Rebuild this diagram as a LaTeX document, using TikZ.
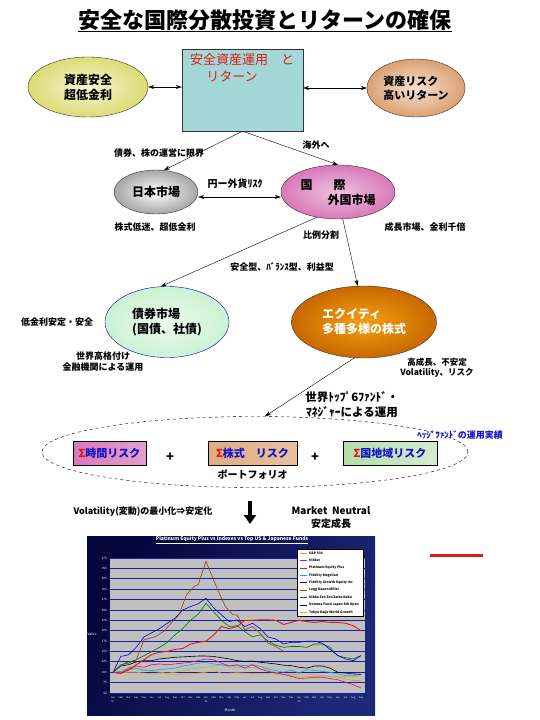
\documentclass[tikz,border=0pt]{standalone}
\usepackage{fontspec}
\setmainfont{Noto Sans CJK JP}
\usetikzlibrary{arrows.meta, positioning, shapes.geometric}
\definecolor{zuRed}{HTML}{E01818}
\definecolor{zuBlue}{HTML}{1414C8}
\definecolor{zuCyan}{HTML}{A4D8D8}
\definecolor{zuCyanLight}{HTML}{DDF4F4}
\definecolor{zuYellow}{HTML}{DCDC74}
\definecolor{zuPeach}{HTML}{DCA070}
\definecolor{zuPink}{HTML}{D878B8}
\definecolor{zuMint}{HTML}{CCF2D2}
\definecolor{zuOrange}{HTML}{F4A010}
\definecolor{zuOrangeDark}{HTML}{C86800}
\definecolor{zuTan}{HTML}{E0AC80}
\definecolor{zuGreen}{HTML}{B4DCA8}
\definecolor{zuNavy}{HTML}{06063C}
\definecolor{zuNavyLight}{HTML}{1C2878}
\definecolor{zuGrid}{HTML}{1C1CA0}
\definecolor{zuPlot}{HTML}{C0C0C0}
\definecolor{zuOlive}{HTML}{B4B43C}
\definecolor{zuBrown}{HTML}{8B4513}

\begin{document}
\begin{tikzpicture}[x=1pt, y=-1pt,
    bubble/.style={ellipse, draw=black!80, inner sep=0pt, align=left,
                   font=\fontsize{12}{15}\selectfont\bfseries},
    note/.style={inner sep=0pt, align=center, font=\fontsize{9}{11}\selectfont\bfseries},
    link/.style={-{Stealth[length=6pt, width=4pt]}, thin},
    twoway/.style={{Stealth[length=6pt, width=4pt]}-{Stealth[length=6pt, width=4pt]}, thin},
    riskbox/.style={rectangle, draw=black, minimum width=#1, minimum height=24pt,
                    inner sep=0pt, font=\fontsize{11}{13}\selectfont\bfseries\color{zuBlue}},
    chartlbl/.style={inner sep=0pt, text=white, font=\fontsize{3}{3.5}\selectfont},
    series/.style={line width=0.6pt},
  ]
    \useasboundingbox (0,0) rectangle (540,720);

    % title
    \node[inner sep=0pt, font=\fontsize{22}{26}\selectfont\bfseries] (title) at (265,20)
        {安全な国際分散投資とリターンの確保};
    \draw[line width=1.4pt] ([yshift=-1pt]title.south west) -- ([yshift=-1pt]title.south east);

    % top row
    \node[rectangle, draw=black!80, minimum width=121pt, minimum height=82pt,
          top color=zuCyan, middle color=zuCyanLight, bottom color=zuCyan] (ret) at (242.5,90) {};
    \node[below right=5pt and 8pt of ret.north west, inner sep=0pt, align=left,
          font=\fontsize{13}{17}\selectfont\color{zuRed}] (retTxt)
        {安全資産運用　と\\\hspace{1.25em}リターン};
    \node[bubble, minimum width=120pt, minimum height=60pt,
          inner color=zuYellow!30!white, outer color=zuYellow] (safe) at (88,87) {資産安全\\超低金利};
    \node[bubble, minimum width=98pt, minimum height=58pt,
          font=\fontsize{11}{14}\selectfont\bfseries,
          inner color=zuPeach!30!white, outer color=zuPeach] (risk) at (416,88) {資産リスク\\高いリターン};
    \draw[twoway] (safe.east) -- (safe.east -| ret.west);
    \draw[twoway] (ret.east |- risk.west) -- (risk.west);

    % markets
    \node[bubble, minimum width=84pt, minimum height=44pt,
          inner color=white, outer color=black!35] (jpmkt) at (156,192) {日本市場};
    \node[bubble, minimum width=114pt, minimum height=54pt,
          inner color=zuPink!45!white, outer color=zuPink] (intl) at (338,192)
        {国\hspace{1.75em}際\\\hspace{2.25em}外国市場};
    \draw[link] (ret.south) -- (jpmkt.70);
    \draw[link] (ret.south) -- (intl.north);
    \draw[twoway] ([yshift=-5pt]jpmkt.east) -- ([yshift=-5pt]intl.west);
    \node[note] (lblLimit) at (159,153) {債券、株の運営に限界};
    \node[note] (lblAbroad) at (316,145) {海外へ};
    \node[note, font=\fontsize{10}{12}\selectfont\bfseries] (lblFx) at (235,184) {円ー外貨ﾘｽｸ};
    \node[note] (lblJpLow) at (155,227) {株式低迷、超低金利};
    \node[note] (lblGrowth) at (425,227) {成長市場、金利千倍};

    % bond and equity
    \node[bubble, draw=blue!70!black, minimum width=124pt, minimum height=71pt,
          inner color=zuMint!40!white, outer color=zuMint] (bond) at (167,322)
        {債券市場\\(国債、社債)};
    \node[bubble, minimum width=145pt, minimum height=72pt, text=white,
          inner color=zuOrange, outer color=zuOrangeDark] (equity) at (364,322)
        {エクイティ\\多種多様の株式};
    \draw[link] (intl.230) -- (bond.100);
    \draw[link] (intl.280) -- (equity.100);
    \node[note] (lblSplit) at (321,235) {比例分割};
    \node[note] (lblTypes) at (282,267) {安全型、ﾊﾞﾗﾝｽ型、利益型};
    \node[note] (lblBondL) at (57,322) {低金利安定・安全};
    \node[note] (lblBondB) at (103,362) {世界高格付け\\金融機関による運用};
    \node[note, font=\fontsize{8.5}{10}\selectfont\bfseries] (lblEqR) at (437,368)
        {高成長、不安定\\Volatility、リスク};

    % portfolio
    \node[ellipse, draw, dashed, minimum width=426pt, minimum height=71pt] (pf) at (255,452) {};
    \draw[link] (equity.255) -- ([xshift=10pt]pf.north);
    \node[note, font=\fontsize{11.5}{15}\selectfont\bfseries] (lblTop6) at (352,405)
        {世界ﾄｯﾌﾟ6ﾌｧﾝﾄﾞ・\\ﾏﾈｼﾞｬｰによる運用};
    \node[note, text=zuBlue] (lblHedge) at (460,435) {ﾍｯｼﾞﾌｧﾝﾄﾞの運用実績};
    \node[riskbox=73pt, left color=zuPink, right color=zuPink!70!white] (tb) at (109.5,453)
        {{\color{zuRed}Σ}時間リスク};
    \node[riskbox=89pt, left color=zuTan, right color=zuTan!75!white] (sb) at (252.5,453)
        {{\color{zuRed}Σ}株式　リスク};
    \node[riskbox=94pt, left color=zuGreen, right color=zuGreen!55!white] (cb) at (390,453)
        {{\color{zuRed}Σ}国地域リスク};
    \node[note, font=\fontsize{13}{13}\selectfont\bfseries] (plus1) at (170,457) {+};
    \node[note, font=\fontsize{13}{13}\selectfont\bfseries] (plus2) at (315,457) {+};
    \node[note, font=\fontsize{10}{12}\selectfont\bfseries, below=4pt of sb] (pflbl) {ポートフォリオ};

    % result
    \node[note] (lblVol) at (143,512) {Volatility(変動)の最小化⇒安定化};
    \coordinate (dn1) at (250,501);
    \coordinate (dn2) at (250,524);
    \draw[line width=3.5pt, -{Triangle[length=9pt, width=12pt]}] (dn1) -- (dn2);
    \node[note, font=\fontsize{10}{13}\selectfont\bfseries] (lblMN) at (331,518)
        {Market~~Neutral\\安定成長};
    \coordinate (rl1) at (430,555);
    \coordinate (rl2) at (483,555);
    \draw[zuRed, line width=3pt] (rl1) -- (rl2);

    % chart
    \shade[left color=zuNavy, right color=zuNavyLight, shading angle=60] (87,536) rectangle (375,715);
    \fill[zuPlot] (110,558) rectangle (365,693);
    \foreach \gy [evaluate=\gy as \gv using int(375-25*\gy)] in {0,...,13} {
      \draw[zuGrid, line width=0.8pt] (110,{558+\gy*10.385}) -- (365,{558+\gy*10.385});
      \node[chartlbl, anchor=east] at (107,{558+\gy*10.385}) {\gv};
    }
    \foreach \mo [count=\k from 0] in {Jan,Feb,Mar,Apr,May,Jun,Jul,Aug,Sep,Oct,Nov,Dec,
                                       Jan,Feb,Mar,Apr,May,Jun,Jul,Aug,Sep,Oct,Nov,Dec,
                                       Jan,Feb,Mar,Apr,May,Jun,Jul,Aug,Sep}
      \node[chartlbl, font=\fontsize{2.4}{3}\selectfont] at ({113+\k*7.75},698) {\mo};
    \node[chartlbl, font=\fontsize{2.4}{3}\selectfont] at (113,702) {97};
    \node[chartlbl, font=\fontsize{2.4}{3}\selectfont] at (206,702) {98};
    \node[chartlbl, font=\fontsize{2.4}{3}\selectfont] at (299,702) {99};
    \node[chartlbl, font=\fontsize{3.5}{4}\selectfont] at (92,634) {Value};
    \node[chartlbl, font=\fontsize{3.5}{4}\selectfont] at (230,710) {Month};
    \node[chartlbl, font=\fontsize{5}{6}\selectfont\bfseries] at (232,540)
        {\underline{Platinum Equity Plus vs Indexes vs Top US \& Japanese Funds}};

    \begin{scope}[shift={(113,713.77)}, x=7.75pt, y=0.41538pt]
      \draw[series, zuOrange] plot coordinates {(0,100) (1,98) (2,100) (3,100) (4,98) (5,96) (6,96)
        (7,96) (8,95) (9,95) (10,96) (11,98) (12,100) (13,104) (14,98) (15,98) (16,99) (17,98)
        (18,97) (19,96) (20,96) (21,96) (22,94) (23,92) (24,90) (25,90) (26,90) (27,92) (28,90)
        (29,90) (30,90) (31,88) (32,92)};
      \draw[series, zuOlive] plot coordinates {(0,100) (1,100) (2,106) (3,108) (4,105) (5,102)
        (6,100) (7,98) (8,100) (9,104) (10,108) (11,110) (12,112) (13,115) (14,118) (15,112)
        (16,112) (17,110) (18,112) (19,108) (20,104) (21,100) (22,96) (23,94) (24,96) (25,96)
        (26,94) (27,92) (28,90) (29,88) (30,84) (31,80) (32,80)};
      \draw[series, cyan] plot coordinates {(0,100) (1,102) (2,108) (3,110) (4,105) (5,104)
        (6,106) (7,108) (8,110) (9,115) (10,118) (11,122) (12,124) (13,120) (14,118) (15,115)
        (16,117) (17,116) (18,118) (19,114) (20,108) (21,104) (22,100) (23,105) (24,98)
        (25,106) (26,104) (27,102) (28,100) (29,96) (30,92) (31,92) (32,95)};
      \draw[series, magenta] plot coordinates {(0,100) (1,96) (2,110) (3,115) (4,112) (5,118)
        (6,120) (7,118) (8,120) (9,122) (10,124) (11,128) (12,132) (13,130) (14,122) (15,115)
        (16,118) (17,110) (18,118) (19,108) (20,102) (21,98) (22,95) (23,90) (24,85) (25,86)
        (26,88) (27,88) (28,85) (29,82) (30,76) (31,70) (32,62)};
      \draw[series, black] plot coordinates {(0,100) (1,115) (2,118) (3,125) (4,128) (5,128)
        (6,132) (7,134) (8,136) (9,137) (10,138) (11,139) (12,139) (13,138) (14,135) (15,132)
        (16,128) (17,126) (18,127) (19,124) (20,122) (21,120) (22,117) (23,116) (24,112)
        (25,110) (26,115) (27,115) (28,110) (29,100) (30,98) (31,96) (32,95)};
      \draw[series, zuRed, line width=0.9pt] plot coordinates {(0,100) (1,98) (2,105) (3,118)
        (4,130) (5,143) (6,148) (7,150) (8,155) (9,157) (10,168) (11,172) (12,175) (13,190)
        (14,210) (15,205) (16,210) (17,225) (18,225) (19,226) (20,226) (21,225) (22,215)
        (23,220) (24,225) (25,222) (26,220) (27,222) (28,220) (29,220) (30,218) (31,212) (32,200)};
      \draw[series, green!45!black] plot coordinates {(0,100) (1,118) (2,122) (3,130) (4,140)
        (5,150) (6,160) (7,172) (8,190) (9,205) (10,225) (11,240) (12,266) (13,245) (14,225)
        (15,210) (16,212) (17,198) (18,185) (19,190) (20,175) (21,165) (22,160) (23,162)
        (24,162) (25,160) (26,168) (27,168) (28,160) (29,140) (30,135) (31,132) (32,140)};
      \draw[series, blue!80!black] plot coordinates {(0,100) (1,138) (2,142) (3,160) (4,185)
        (5,195) (6,205) (7,218) (8,230) (9,250) (10,258) (11,265) (12,278) (13,255) (14,238)
        (15,222) (16,226) (17,210) (18,218) (19,205) (20,185) (21,180) (22,168) (23,172)
        (24,172) (25,175) (26,175) (27,170) (28,155) (29,140) (30,132) (31,128) (32,140)};
      \draw[series, zuBrown] plot coordinates {(0,100) (1.5,122) (3,130) (4,178) (5.5,186)
        (6.5,198) (7.5,218) (8.5,238) (9.5,287) (10.5,307) (11,311) (12,367) (13.5,299)
        (14.5,258) (15.5,238) (16,238) (17,202) (18,210) (19,194) (20,170) (21,162) (22,150)};
    \end{scope}

    % legend
    \node[rectangle, draw=black, fill=white, minimum width=66pt, minimum height=67pt,
          anchor=north west, inner sep=0pt] (legend) at (297,549) {};
    \foreach \c/\t [count=\k from 0] in {zuOlive/{S\&P 500}, magenta/Nikkei,
        zuRed/{Platinum Equity Plus}, cyan/{Fidelity Magellan},
        blue!80!black/{Fidelity Growth Equity Inc}, zuBrown/{Legg Mason Miller},
        green!45!black/{Nikko Zen Zen Zaiko Kabu}, black/{Nomura Fund Japan Stk Open},
        zuOrange/{Tokyo Kaijo World Growth}} {
      \draw[\c, line width=0.6pt] (300,{553+\k*7.4}) -- (307,{553+\k*7.4});
      \node[inner sep=0pt, anchor=west, font=\fontsize{3.3}{4}\selectfont\bfseries]
          at (309,{553+\k*7.4}) {\t};
    }
\end{tikzpicture}
\end{document}
